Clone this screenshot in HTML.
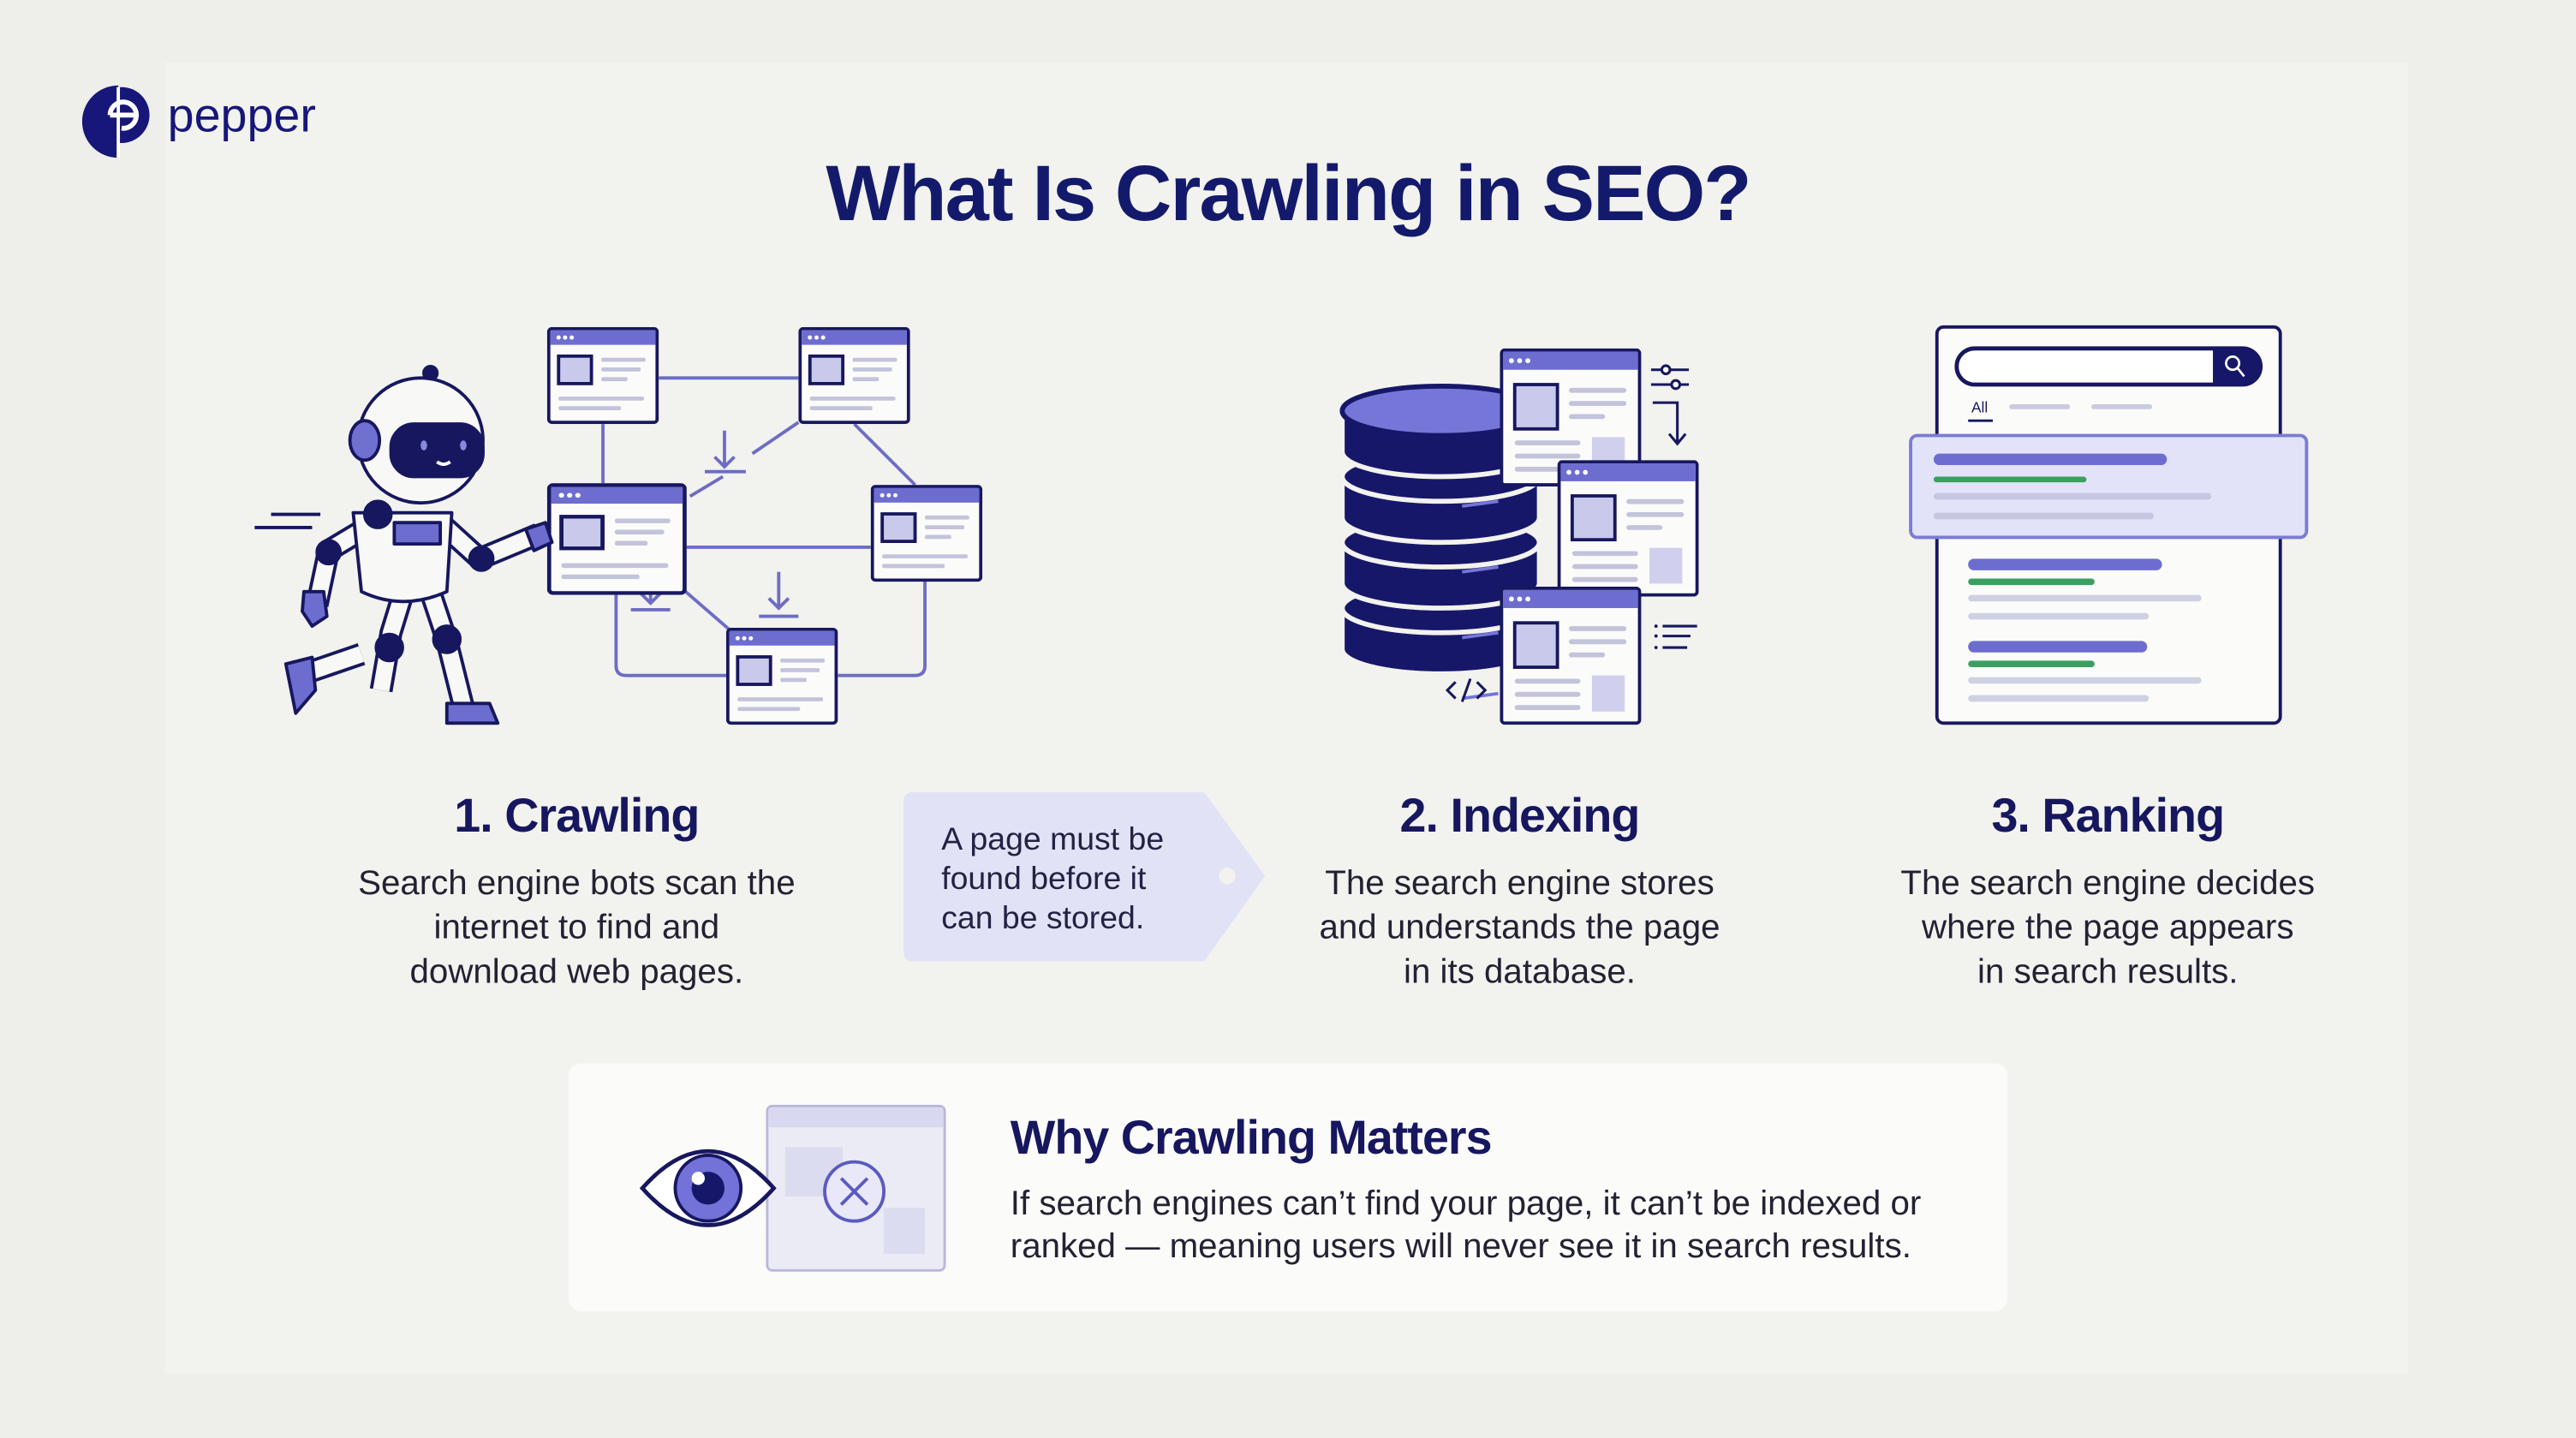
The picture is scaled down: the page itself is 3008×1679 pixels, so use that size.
<!DOCTYPE html>
<html><head><meta charset="utf-8"><style>
html,body{margin:0;padding:0;background:#eeeeea}
svg{display:block}
text{font-family:"Liberation Sans",sans-serif}
</style></head><body>
<svg width="3008" height="1679" viewBox="0 0 1568 875" preserveAspectRatio="none" xmlns="http://www.w3.org/2000/svg">
<defs>
<symbol id="win" viewBox="0 0 68 60" preserveAspectRatio="none">
 <rect x="1" y="1" width="66" height="58" rx="2" fill="#fbfbfa" stroke="#17175f" stroke-width="2"/>
 <rect x="2" y="2" width="64" height="9" fill="#6d6dd0"/>
 <circle cx="7" cy="6.5" r="1.3" fill="#fff"/><circle cx="11" cy="6.5" r="1.3" fill="#fff"/><circle cx="15" cy="6.5" r="1.3" fill="#fff"/>
 <rect x="7" y="18" width="20" height="17" fill="#c9c9ec" stroke="#17175f" stroke-width="2"/>
 <rect x="33" y="19" width="27" height="2.5" rx="1" fill="#c3c3dc"/>
 <rect x="33" y="25" width="24" height="2.5" rx="1" fill="#c3c3dc"/>
 <rect x="33" y="31" width="16" height="2.5" rx="1" fill="#c3c3dc"/>
 <rect x="7" y="43" width="52" height="2.5" rx="1" fill="#c3c3dc"/>
 <rect x="7" y="49" width="38" height="2.5" rx="1" fill="#c3c3dc"/>
</symbol>
<symbol id="win2" viewBox="0 0 86 84" preserveAspectRatio="none">
 <rect x="1" y="1" width="84" height="82" rx="2" fill="#fbfbfa" stroke="#17175f" stroke-width="2"/>
 <rect x="2" y="2" width="82" height="11" fill="#6d6dd0"/>
 <circle cx="7" cy="7.5" r="1.5" fill="#fff"/><circle cx="12" cy="7.5" r="1.5" fill="#fff"/><circle cx="17" cy="7.5" r="1.5" fill="#fff"/>
 <rect x="9" y="22" width="26" height="27" fill="#c9c9ec" stroke="#17175f" stroke-width="2"/>
 <rect x="42" y="24" width="35" height="3" rx="1.5" fill="#c3c3dc"/>
 <rect x="42" y="32" width="35" height="3" rx="1.5" fill="#c3c3dc"/>
 <rect x="42" y="40" width="22" height="3" rx="1.5" fill="#c3c3dc"/>
 <rect x="9" y="56" width="40" height="3" rx="1.5" fill="#c3c3dc"/>
 <rect x="9" y="64" width="40" height="3" rx="1.5" fill="#c3c3dc"/>
 <rect x="9" y="72" width="40" height="3" rx="1.5" fill="#c3c3dc"/>
 <rect x="56" y="54" width="20" height="22" fill="#d0d0ee"/>
</symbol>
</defs>
<rect width="1568" height="875" fill="#eeeeea"/>
<rect x="100" y="38" width="1366" height="798" fill="#f2f2ef"/>

<!-- logo -->
<path d="M72 52 A22 22 0 0 0 72 96 Z" fill="#17177a"/>
<circle cx="74" cy="70" r="17" fill="#17177a"/>
<path d="M67 70 A8 8 0 1 1 74 78" fill="none" stroke="#fff" stroke-width="3"/>
<line x1="67" y1="70" x2="82" y2="70" stroke="#fff" stroke-width="3"/>
<line x1="72" y1="53" x2="72" y2="96" stroke="#fff" stroke-width="2"/>
<text x="102" y="80" font-size="29" fill="#17177a">pepper</text>

<text x="784" y="134" font-size="48" font-weight="bold" fill="#141a6b" text-anchor="middle" letter-spacing="-1">What Is Crawling in SEO?</text>

<!-- crawling connectors -->
<g stroke="#6d6dc4" stroke-width="2" fill="none">
 <line x1="401" y1="230" x2="486" y2="230"/>
 <line x1="367" y1="258" x2="367" y2="294"/>
 <line x1="520" y1="258" x2="557" y2="295"/>
 <line x1="486" y1="257" x2="458" y2="276"/>
 <line x1="440" y1="290" x2="420" y2="302"/>
 <line x1="418" y1="333" x2="530" y2="333"/>
 <line x1="415" y1="358" x2="445" y2="384"/>
 <path d="M375 361 V405 Q375 411 381 411 H442"/>
 <path d="M510 411 H557 Q563 411 563 405 V353"/>
 <path d="M441 262 V284 M435 278 L441 284 L447 278"/>
 <line x1="429" y1="287" x2="454" y2="287"/>
 <path d="M396 348 V367 M390 361 L396 367 L402 361"/>
 <line x1="384" y1="371" x2="408" y2="371"/>
 <path d="M474 348 V370 M468 364 L474 370 L480 364"/>
 <line x1="462" y1="375" x2="486" y2="375"/>
</g>
<use href="#win" x="333" y="199" width="68" height="59"/>
<use href="#win" x="486" y="199" width="68" height="59"/>
<use href="#win" x="333" y="294" width="85" height="68"/>
<use href="#win" x="530" y="295" width="68" height="59"/>
<use href="#win" x="442" y="382" width="68" height="59"/>

<!-- robot -->
<g stroke="#17175f" stroke-width="2" stroke-linejoin="round">
 <line x1="155" y1="321" x2="190" y2="321"/><line x1="165" y1="313" x2="195" y2="313"/>
 <line x1="262" y1="230" x2="262" y2="248"/><circle cx="262" cy="227" r="4" fill="#17175f"/>
 <path d="M250 346 L238 385 L232 420" stroke-width="14" stroke="#17175f" fill="none"/>
 <path d="M250 346 L238 385 L232 420" stroke-width="10" stroke="#f8f8f6" fill="none"/>
 <path d="M220 398 L185 410" stroke-width="14" fill="none"/>
 <path d="M220 398 L185 410" stroke-width="10" stroke="#f8f8f6" fill="none"/>
 <path d="M262 360 L272 390 L282 430" stroke-width="14" fill="none"/>
 <path d="M262 360 L272 390 L282 430" stroke-width="10" stroke="#f8f8f6" fill="none"/>
 <path d="M225 320 L200 335 L193 368" stroke-width="14" fill="none"/>
 <path d="M225 320 L200 335 L193 368" stroke-width="10" stroke="#f8f8f6" fill="none"/>
 <path d="M270 320 L292 340 L328 325" stroke-width="14" fill="none"/>
 <path d="M270 320 L292 340 L328 325" stroke-width="10" stroke="#f8f8f6" fill="none"/>
 <path d="M215 312 L275 312 L272 360 Q245 372 220 360 Z" fill="#f8f8f6"/>
 <rect x="240" y="318" width="28" height="13" fill="#6d6dd0"/>
 <circle cx="256" cy="268" r="38" fill="#f8f8f6"/>
 <ellipse cx="222" cy="268" rx="9" ry="12" fill="#7070d0"/>
 <rect x="238" y="258" width="56" height="32" rx="14" fill="#17175f"/>
 <ellipse cx="258" cy="271" rx="2" ry="3" fill="#8888dd" stroke="none"/>
 <ellipse cx="282" cy="271" rx="2" ry="3" fill="#8888dd" stroke="none"/>
 <path d="M266 281 Q270 284 274 281" stroke="#fff" fill="none"/>
 <circle cx="230" cy="313" r="8" fill="#17175f"/>
 <circle cx="200" cy="336" r="7" fill="#17175f"/>
 <circle cx="293" cy="340" r="7" fill="#17175f"/>
 <circle cx="237" cy="394" r="8" fill="#17175f"/>
 <circle cx="272" cy="389" r="8" fill="#17175f"/>
 <path d="M185 360 L197 360 L199 375 L190 381 L184 372 Z" fill="#6d6dd0"/>
 <path d="M320 322 L332 318 L336 330 L325 335 Z" fill="#6d6dd0"/>
 <path d="M174 404 L190 400 L192 420 L180 434 Z" fill="#6d6dd0"/>
 <path d="M272 428 L298 428 L303 440 L272 440 Z" fill="#6d6dd0"/>
</g>

<!-- database -->
<g stroke="#f2f2ef" stroke-width="3">
 <path d="M817 370 V395 A60 15 0 0 0 937 395 V370 Z" fill="#17176a"/>
 <ellipse cx="877" cy="370" rx="60" ry="15" fill="#17176a"/>
 <path d="M817 330 V355 A60 15 0 0 0 937 355 V330 Z" fill="#17176a"/>
 <ellipse cx="877" cy="330" rx="60" ry="15" fill="#17176a"/>
 <path d="M817 290 V315 A60 15 0 0 0 937 315 V290 Z" fill="#17176a"/>
 <ellipse cx="877" cy="290" rx="60" ry="15" fill="#17176a"/>
 <path d="M817 250 V275 A60 15 0 0 0 937 275 V250 Z" fill="#17176a"/>
 <ellipse cx="877" cy="250" rx="60" ry="15" fill="#7676d8" stroke="#17176a"/>
</g>
<g stroke="#7676d8" stroke-width="2"><line x1="890" y1="308" x2="912" y2="305"/><line x1="890" y1="348" x2="912" y2="345"/><line x1="890" y1="388" x2="912" y2="385"/><line x1="890" y1="425" x2="912" y2="422"/></g>
<use href="#win2" x="913" y="212" width="86" height="84"/>
<use href="#win2" x="948" y="280" width="86" height="83"/>
<use href="#win2" x="913" y="357" width="86" height="84"/>
<g stroke="#17175f" stroke-width="1.6" fill="none">
 <line x1="1005" y1="225" x2="1028" y2="225"/><circle cx="1014" cy="225" r="2.5" fill="#fff"/>
 <line x1="1005" y1="234" x2="1028" y2="234"/><circle cx="1020" cy="234" r="2.5" fill="#fff"/>
 <path d="M1006 245 H1021 V270 M1016 264 L1021 270 L1026 264"/>
 <line x1="1012" y1="381" x2="1033" y2="381"/><line x1="1012" y1="387" x2="1029" y2="387"/><line x1="1012" y1="394" x2="1027" y2="394"/>
 <path d="M886 415 L881 420 L886 425 M899 415 L904 420 L899 425 M895 413 L890 427"/>
</g>
<g fill="#17175f"><circle cx="1008" cy="381" r="1"/><circle cx="1008" cy="387" r="1"/><circle cx="1008" cy="394" r="1"/></g>

<!-- ranking -->
<rect x="1179" y="199" width="209" height="241" rx="4" fill="#fbfbfa" stroke="#17175f" stroke-width="2"/>
<rect x="1191" y="212" width="185" height="22" rx="11" fill="#fff" stroke="#17175f" stroke-width="2.5"/>
<path d="M1347 212 H1365 A11 11 0 0 1 1365 234 H1347 Z" fill="#17176a"/>
<circle cx="1359" cy="221" r="4" fill="none" stroke="#fff" stroke-width="1.4"/><line x1="1362" y1="224" x2="1366" y2="229" stroke="#fff" stroke-width="1.4"/>
<text x="1200" y="251" font-size="9" fill="#17175f">All</text>
<line x1="1198" y1="256" x2="1213" y2="256" stroke="#17175f" stroke-width="1.5"/>
<rect x="1223" y="246" width="37" height="3" rx="1.5" fill="#c9cbe0"/><rect x="1273" y="246" width="37" height="3" rx="1.5" fill="#c9cbe0"/>
<rect x="1163" y="265" width="241" height="62" rx="4" fill="#e2e2f9" stroke="#7b7bd6" stroke-width="2"/>
<rect x="1177" y="276" width="142" height="7" rx="3.5" fill="#6d6dd0"/>
<rect x="1177" y="290" width="93" height="3.5" rx="1.7" fill="#3aa061"/>
<rect x="1177" y="300" width="169" height="4" rx="2" fill="#c5c7e0"/>
<rect x="1177" y="312" width="134" height="4" rx="2" fill="#c5c7e0"/>
<rect x="1198" y="340" width="118" height="7" rx="3.5" fill="#6d6dd0"/>
<rect x="1198" y="352" width="77" height="4" rx="2" fill="#3aa061"/>
<rect x="1198" y="362" width="142" height="4" rx="2" fill="#cfd1e3"/>
<rect x="1198" y="373" width="110" height="4" rx="2" fill="#cfd1e3"/>
<rect x="1198" y="390" width="109" height="7" rx="3.5" fill="#6d6dd0"/>
<rect x="1198" y="402" width="77" height="4" rx="2" fill="#3aa061"/>
<rect x="1198" y="412" width="142" height="4" rx="2" fill="#cfd1e3"/>
<rect x="1198" y="423" width="110" height="4" rx="2" fill="#cfd1e3"/>

<!-- labels -->
<g fill="#17175f" text-anchor="middle">
 <text x="351" y="506" font-size="29" font-weight="bold" letter-spacing="-0.5">1. Crawling</text>
 <text x="925" y="506" font-size="29" font-weight="bold" letter-spacing="-0.5">2. Indexing</text>
 <text x="1283" y="506" font-size="29" font-weight="bold" letter-spacing="-0.5">3. Ranking</text>
</g>
<g fill="#222233" text-anchor="middle" font-size="21">
 <text x="351" y="544">Search engine bots scan the</text>
 <text x="351" y="571">internet to find and</text>
 <text x="351" y="598">download web pages.</text>
 <text x="925" y="544">The search engine stores</text>
 <text x="925" y="571">and understands the page</text>
 <text x="925" y="598">in its database.</text>
 <text x="1283" y="544">The search engine decides</text>
 <text x="1283" y="571">where the page appears</text>
 <text x="1283" y="598">in search results.</text>
</g>
<path d="M556 482 H733 L770 533 L733 585 H556 Q550 585 550 579 V488 Q550 482 556 482 Z" fill="#e2e2f6"/>
<circle cx="747" cy="533" r="5" fill="#f2f2ef"/>
<g fill="#222244" font-size="19.5">
 <text x="573" y="517">A page must be</text>
 <text x="573" y="541">found before it</text>
 <text x="573" y="565">can be stored.</text>
</g>

<!-- bottom card -->
<rect x="346" y="647" width="876" height="151" rx="8" fill="#fbfbf9"/>
<rect x="467" y="673" width="108" height="100" rx="3" fill="#ebebf6" stroke="#b8b8dd" stroke-width="1.5"/>
<rect x="468" y="674" width="106" height="12" fill="#d8d8f0"/>
<rect x="478" y="698" width="35" height="30" fill="#dcdcf0"/>
<rect x="538" y="735" width="25" height="28" fill="#dcdcf0"/>
<path d="M391 723 Q431 678 471 723 Q431 768 391 723 Z" fill="#fff" stroke="#17175f" stroke-width="2.5"/>
<circle cx="431" cy="723" r="20" fill="#7272d8" stroke="#17175f" stroke-width="2"/>
<circle cx="431" cy="723" r="10" fill="#17176a"/>
<circle cx="425" cy="717" r="4" fill="#fff"/>
<circle cx="520" cy="725" r="18" fill="#e8e8f8" stroke="#5a5ac0" stroke-width="2"/>
<path d="M512 717 L528 733 M528 717 L512 733" stroke="#5a5ac0" stroke-width="2"/>
<text x="615" y="702" font-size="29" font-weight="bold" fill="#17175f" letter-spacing="-0.5">Why Crawling Matters</text>
<text x="615" y="739" font-size="21" fill="#222233">If search engines can’t find your page, it can’t be indexed or</text>
<text x="615" y="765" font-size="21" fill="#222233">ranked — meaning users will never see it in search results.</text>
</svg>
</body></html>
